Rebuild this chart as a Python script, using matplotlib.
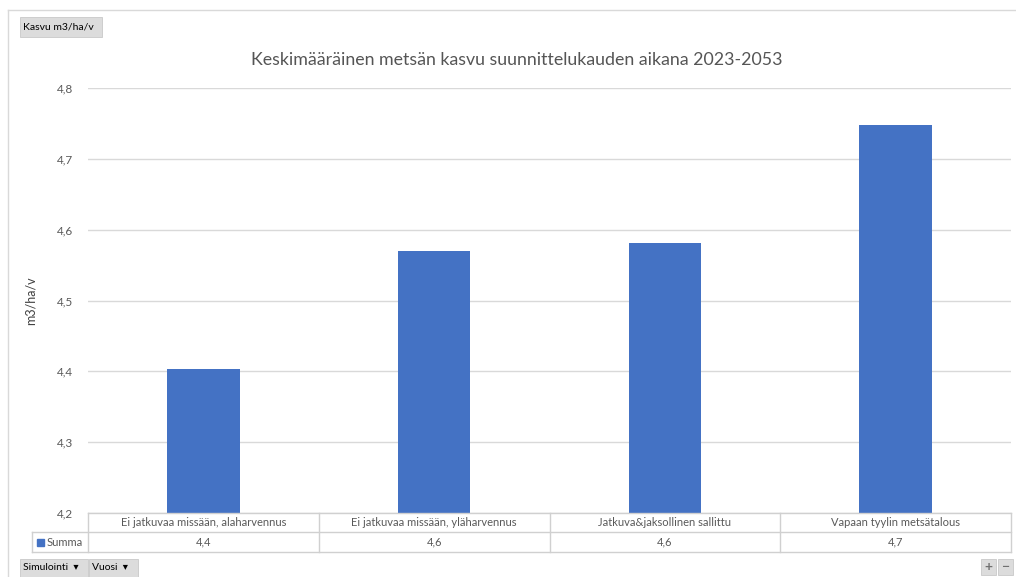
import numpy as np
import matplotlib.pyplot as plt
from matplotlib.patches import Rectangle
from matplotlib.ticker import FuncFormatter

plt.rcParams['font.family'] = ['Lato', 'DejaVu Sans']

# Keskimääräinen kasvu m3/ha/v skenaarioittain
categories = ['Ei jatkuvaa missään, alaharvennus',
              'Ei jatkuvaa missään, yläharvennus',
              'Jatkuva&jaksollinen sallittu',
              'Vapaan tyylin metsätalous']
values = [4.403, 4.570, 4.581, 4.748]
yticks = [4.2, 4.3, 4.4, 4.5, 4.6, 4.7, 4.8]

W, H = 1016, 577
bar_color = '#4472C4'
grid_color = '#d9d9d9'
text_color = '#595959'


def fx(px):
    return px / W


def fy(py):
    return 1 - py / H


def fmt(v):
    return f'{v:.1f}'.replace('.', ',')


fig = plt.figure(figsize=(W / 100, H / 100), dpi=100)

# outer frame of the pivot chart
fig.add_artist(plt.Line2D([fx(8), 1], [fy(10), fy(10)], color=grid_color, lw=1))
fig.add_artist(plt.Line2D([fx(8), fx(8)], [fy(10), 0], color=grid_color, lw=1))

# plot area
left, right, top, bottom = 88, 1011, 88, 513
ax = fig.add_axes([fx(left), fy(bottom), fx(right - left), (bottom - top) / H])
x = np.arange(len(categories))
ax.bar(x, values, width=0.315, color=bar_color, zorder=3)
ax.set_xlim(-0.5, len(categories) - 0.5)
ax.set_ylim(yticks[0], yticks[-1])
ax.set_yticks(yticks)
ax.yaxis.set_major_formatter(FuncFormatter(lambda v, p: fmt(v)))
ax.tick_params(axis='y', length=0, pad=11, labelsize=8.5, labelcolor=text_color)
ax.set_xticks([])
ax.grid(axis='y', color=grid_color, lw=1, zorder=0)
for s in ax.spines.values():
    s.set_visible(False)
ax.set_ylabel('m3/ha/v', fontsize=9, color='#404040', labelpad=14)

fig.text(fx(517), fy(60), 'Keskimääräinen metsän kasvu suunnittelukauden aikana 2023-2053',
         ha='center', va='center', fontsize=12.8, color='#555555')

# data table under the axis
col_w = (right - left) / len(categories)
row1, row2, row3 = 513, 532, 552
lc = '#d0d0d0'
for yy, x0 in [(row1, left), (row2, 32), (row3, 32)]:
    fig.add_artist(plt.Line2D([fx(x0), fx(right)], [fy(yy), fy(yy)], color=lc, lw=1))
for i in range(len(categories) + 1):
    xx = left + i * col_w
    fig.add_artist(plt.Line2D([fx(xx), fx(xx)], [fy(row1), fy(row3)], color=lc, lw=1))
fig.add_artist(plt.Line2D([fx(32), fx(32)], [fy(row2), fy(row3)], color=lc, lw=1))
for i, (c, v) in enumerate(zip(categories, values)):
    xc = left + (i + 0.5) * col_w
    fig.text(fx(xc), fy((row1 + row2) / 2), c, ha='center', va='center',
             fontsize=8, color=text_color)
    fig.text(fx(xc), fy((row2 + row3) / 2), fmt(v), ha='center', va='center',
             fontsize=8, color=text_color)
fig.add_artist(Rectangle((fx(37), fy(546)), fx(7), 7 / H, color=bar_color))
fig.text(fx(47), fy((row2 + row3) / 2), 'Summa', ha='left', va='center',
         fontsize=8, color=text_color)


# field buttons
def button(x0, y0, x1, y1, label, size=7.5, color='black', center=False):
    fig.add_artist(Rectangle((fx(x0), fy(y1)), fx(x1 - x0), (y1 - y0) / H,
                             facecolor='#dcdcdc', edgecolor='#c8c8c8', lw=0.6))
    if center:
        fig.text(fx((x0 + x1) / 2), fy((y0 + y1) / 2), label, ha='center', va='center',
                 fontsize=size, color=color, fontweight='bold')
    else:
        fig.text(fx(x0 + 3), fy((y0 + y1) / 2), label, ha='left', va='center',
                 fontsize=size, color=color)


button(20, 17, 102, 37, 'Kasvu m3/ha/v')
button(20, 559, 88, 577, 'Simulointi  \u25be')
button(89, 559, 138, 577, 'Vuosi  \u25be')
button(981, 559, 996, 575, '+', size=10, color='#707070', center=True)
button(998, 559, 1013, 575, '\u2212', size=10, color='#707070', center=True)

fig.savefig('out.png', dpi=100, facecolor='white')
